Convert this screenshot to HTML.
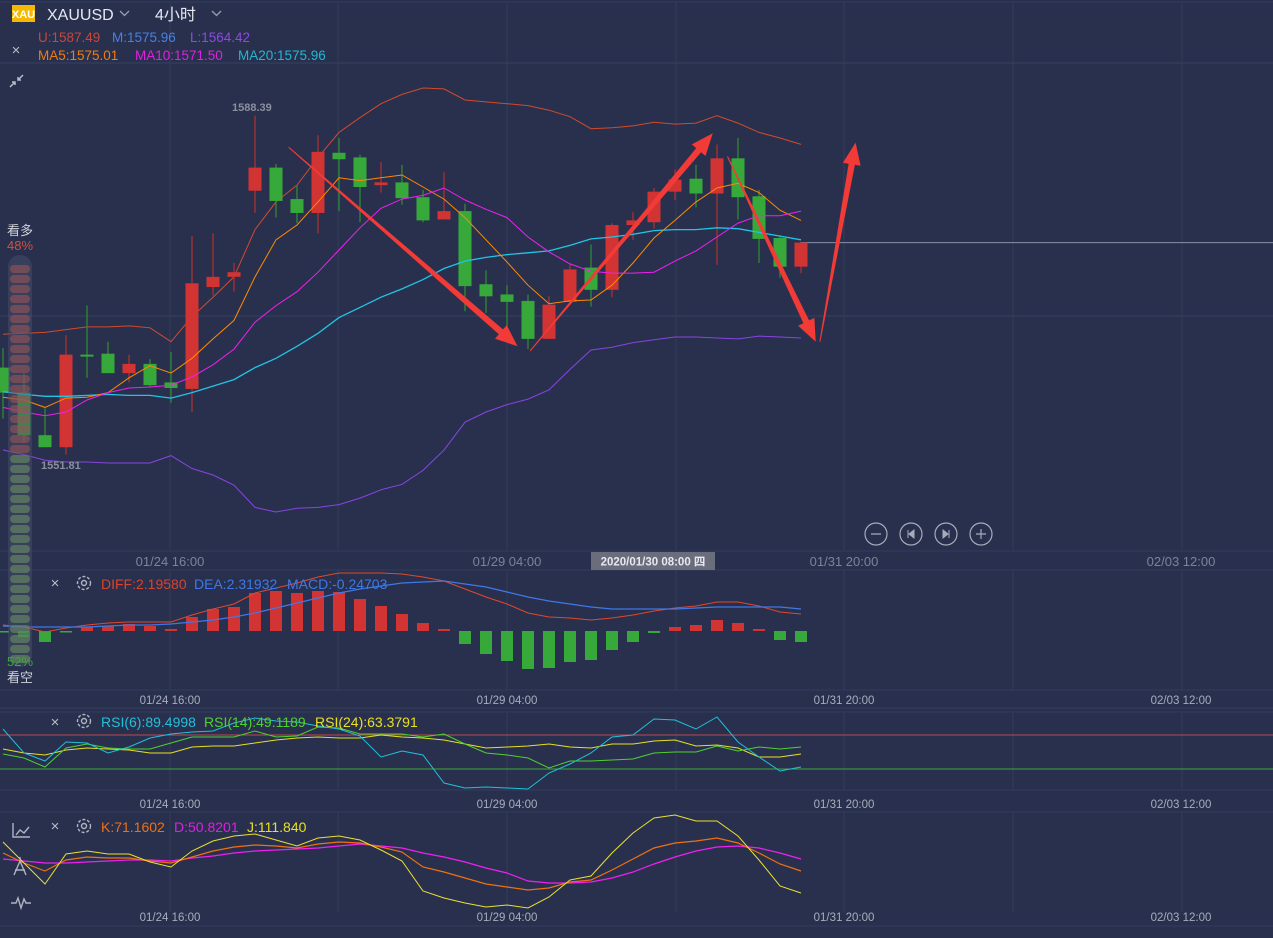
<!DOCTYPE html>
<html><head><meta charset="utf-8">
<style>
html,body{margin:0;padding:0;background:#28304e;}
body{width:1273px;height:938px;overflow:hidden;position:relative;font-family:"Liberation Sans","Noto Sans CJK SC",sans-serif;}
svg{position:absolute;left:0;top:0;}
text{font-family:"Liberation Sans","Noto Sans CJK SC",sans-serif;}
</style></head>
<body>
<svg id="chart" width="1273" height="938" viewBox="0 0 1273 938" xmlns="http://www.w3.org/2000/svg">
  <rect x="0" y="0" width="1273" height="938" fill="#28304e"/>
  <g id="grid"></g>
  <g id="main"></g>
  <g id="macd"></g>
  <g id="rsi"></g>
  <g id="kdj"></g>
  <g id="arrows"></g>

  <rect x="12" y="5" width="23" height="17" fill="#f5b800"/>
  <text x="23.5" y="18" font-size="11" font-weight="bold" fill="#fff" text-anchor="middle">XAU</text>
  <text x="47" y="20" font-size="16" fill="#e6e8ee">XAUUSD</text>
  <path d="M120 11 l4.5 4.5 l4.5 -4.5" stroke="#9aa0b0" fill="none" stroke-width="1.3"/>
  <text x="155" y="20" font-size="16" fill="#e6e8ee">4小时</text>
  <path d="M212 11 l4.5 4.5 l4.5 -4.5" stroke="#9aa0b0" fill="none" stroke-width="1.3"/>

  <text x="38" y="42" font-size="13.5" fill="#c8463a">U:1587.49</text>
  <text x="112" y="42" font-size="13.5" fill="#4a80e0">M:1575.96</text>
  <text x="190" y="42" font-size="13.5" fill="#8d4ae0">L:1564.42</text>
  <text x="38" y="60" font-size="13.5" fill="#f07c10">MA5:1575.01</text>
  <text x="135" y="60" font-size="13.5" fill="#e020e0">MA10:1571.50</text>
  <text x="238" y="60" font-size="13.5" fill="#20b8d0">MA20:1575.96</text>
  <text x="16" y="55" font-size="15" fill="#b8bcc8" text-anchor="middle">×</text>
  <g stroke="#b8bcc8" stroke-width="1.5" fill="none">
    <path d="M23 75 l-5 5 M18 77 v3 h3"/><path d="M10 87 l5 -5 M12 82 h3 v3"/>
  </g>

  <text x="232" y="111" font-size="11" font-weight="bold" fill="#8a8f9e">1588.39</text>
  <text x="41" y="469" font-size="11" font-weight="bold" fill="#8a8f9e">1551.81</text>

  <g id="sentiment"></g>
  <text x="20" y="235" font-size="13" fill="#d0d2da" text-anchor="middle">看多</text>
  <text x="20" y="250" font-size="13" fill="#d0503e" text-anchor="middle">48%</text>
  <text x="20" y="666" font-size="13" fill="#3aa83a" text-anchor="middle">52%</text>
  <text x="20" y="682" font-size="13" fill="#d0d2da" text-anchor="middle">看空</text>

  <g stroke="#a8acb8" fill="none" stroke-width="1.2">
    <circle cx="876" cy="534" r="11"/>
    <circle cx="911" cy="534" r="11"/>
    <circle cx="946" cy="534" r="11"/>
    <circle cx="981" cy="534" r="11"/>
    <path d="M871 534 h10 M976 534 h10 M981 529 v10"/>
  </g>
  <path d="M908 530 v8 M914 530 l-5 4 l5 4z M949 530 v8 M943 530 l5 4 l-5 4z" fill="#a8acb8" stroke="#a8acb8" stroke-width="1"/>

  <g font-size="13" fill="#7d8396" text-anchor="middle">
    <text x="170" y="566">01/24 16:00</text>
    <text x="507" y="566">01/29 04:00</text>
    <text x="844" y="566">01/31 20:00</text>
    <text x="1181" y="566">02/03 12:00</text>
  </g>
  <rect x="591" y="552" width="124" height="18" fill="#6a6d7c"/>
  <text x="653" y="565.5" font-size="11.5" font-weight="bold" fill="#e8e8ee" text-anchor="middle">2020/01/30 08:00 四</text>
  <g font-size="11.5" fill="#a8adbb" text-anchor="middle">
    <text x="170" y="704">01/24 16:00</text><text x="507" y="704">01/29 04:00</text><text x="844" y="704">01/31 20:00</text><text x="1181" y="704">02/03 12:00</text>
    <text x="170" y="808">01/24 16:00</text><text x="507" y="808">01/29 04:00</text><text x="844" y="808">01/31 20:00</text><text x="1181" y="808">02/03 12:00</text>
    <text x="170" y="921">01/24 16:00</text><text x="507" y="921">01/29 04:00</text><text x="844" y="921">01/31 20:00</text><text x="1181" y="921">02/03 12:00</text>
  </g>

  <g font-size="15" fill="#b8bcc8" text-anchor="middle">
    <text x="55" y="588">×</text>
    <text x="55" y="727">×</text>
    <text x="55" y="831">×</text>
  </g>
  <g fill="none" stroke="#b0b4c0" stroke-width="1.4">
    <g><circle cx="84" cy="583" r="6.5" stroke-dasharray="3 1.8"/><circle cx="84" cy="583" r="2.5"/></g>
    <g><circle cx="84" cy="721" r="6.5" stroke-dasharray="3 1.8"/><circle cx="84" cy="721" r="2.5"/></g>
    <g><circle cx="84" cy="826" r="6.5" stroke-dasharray="3 1.8"/><circle cx="84" cy="826" r="2.5"/></g>
  </g>
  <g font-size="14">
    <text x="101" y="589" fill="#d8442e">DIFF:2.19580</text>
    <text x="194" y="589" fill="#3f78e6">DEA:2.31932</text>
    <text x="287" y="589" fill="#3f78e6">MACD:-0.24703</text>
    <text x="101" y="727" fill="#22c0d8">RSI(6):89.4998</text>
    <text x="204" y="727" fill="#50d030">RSI(14):49.1189</text>
    <text x="315" y="727" fill="#e8e020">RSI(24):63.3791</text>
    <text x="101" y="832" fill="#f07010">K:71.1602</text>
    <text x="174" y="832" fill="#e020e0">D:50.8201</text>
    <text x="247" y="832" fill="#e8e020">J:111.840</text>
  </g>
  <g stroke="#b0b4c0" fill="none" stroke-width="1.4">
    <path d="M13 823 v14 h17 M16 835 l4 -5 l4 3 l5 -6"/>
    <path d="M20 857 v4 M20 861 l-6 14 M20 861 l6 14 M15 870 h10"/>
    <path d="M11 903 h5 l2 -5 l3 10 l3 -9 l2 4 h5"/>
  </g>
</svg>
<script>
const openP  = [1561.2,1558.5,1553.9,1552.6,1562.6,1562.7,1560.6,1561.6,1559.6,1558.9,1569.9,1571.0,1580.3,1582.8,1579.4,1577.9,1584.4,1583.9,1580.9,1581.2,1579.6,1577.2,1578.1,1570.2,1569.1,1568.4,1564.3,1568.3,1572.0,1569.6,1576.6,1576.9,1580.2,1581.6,1580.0,1583.8,1579.7,1575.2,1572.1];
const highP  = [1563.3,1560.6,1556.8,1564.7,1567.9,1564.0,1562.6,1562.1,1562.9,1575.4,1575.7,1572.5,1588.4,1583.2,1580.9,1586.3,1586.0,1584.2,1583.4,1583.1,1580.4,1582.3,1578.9,1571.7,1570.1,1569.1,1568.9,1572.4,1574.5,1576.8,1578.0,1580.6,1582.6,1583.1,1585.3,1586.0,1580.4,1575.5,1574.8];
const lowP   = [1555.7,1553.2,1552.6,1551.8,1560.1,1560.6,1559.6,1559.1,1557.4,1556.4,1569.0,1569.4,1577.9,1577.4,1576.8,1575.7,1578.1,1576.9,1580.1,1578.8,1576.9,1577.2,1567.3,1567.1,1565.3,1563.2,1564.3,1568.3,1567.8,1568.8,1575.0,1576.2,1579.3,1578.5,1572.3,1577.2,1572.5,1570.9,1571.4];
const closeP = [1558.5,1553.9,1552.6,1562.6,1562.4,1560.6,1561.6,1559.3,1559.0,1570.3,1571.0,1571.5,1582.8,1579.2,1577.9,1584.5,1583.7,1580.7,1581.2,1579.5,1577.1,1578.1,1570.0,1568.9,1568.3,1564.3,1568.0,1571.8,1569.6,1576.6,1577.1,1580.2,1581.5,1580.0,1583.8,1579.6,1575.1,1572.1,1574.7];
const bollUpper = [1564.8,1564.9,1565.0,1565.3,1565.6,1565.6,1565.7,1565.5,1564.0,1566.7,1568.8,1571.0,1576.1,1579.1,1580.9,1583.9,1586.6,1588.2,1589.7,1590.7,1591.4,1591.3,1590.1,1589.9,1589.7,1589.5,1589.0,1588.3,1587.0,1587.1,1587.3,1587.7,1587.5,1587.6,1588.4,1587.6,1586.6,1586.0,1585.3];
const bollMid   = [1558.6,1558.3,1558.1,1558.1,1558.2,1558.3,1558.2,1558.2,1557.9,1558.5,1559.2,1559.9,1561.2,1562.2,1563.5,1564.9,1566.6,1567.7,1568.8,1569.7,1570.7,1571.9,1572.7,1573.1,1573.4,1573.6,1573.8,1574.4,1575.1,1575.3,1575.6,1576.0,1576.1,1576.1,1576.3,1576.2,1575.8,1575.4,1575.0];
const bollLower = [1552.3,1551.8,1551.2,1551.0,1551.0,1550.9,1550.9,1550.9,1551.7,1550.3,1549.6,1548.5,1546.1,1545.6,1546.0,1546.1,1546.4,1547.1,1548.0,1548.6,1550.1,1552.3,1555.3,1556.4,1557.2,1557.8,1558.8,1561.0,1563.1,1563.4,1563.9,1564.2,1564.5,1564.5,1564.4,1564.3,1564.6,1564.5,1564.4];
const ma5  = [1558.0,1557.7,1556.9,1557.9,1558.0,1558.5,1560.1,1561.4,1560.6,1562.2,1564.3,1566.3,1571.0,1575.0,1576.6,1579.1,1581.7,1581.4,1581.7,1582.0,1580.7,1579.4,1577.4,1575.0,1572.6,1570.1,1568.1,1568.4,1568.5,1570.1,1572.5,1575.2,1577.1,1579.1,1580.6,1581.1,1580.1,1578.2,1577.1];
const ma10 = [1556.9,1556.4,1556.0,1556.4,1557.7,1558.5,1559.0,1559.1,1559.3,1560.2,1561.5,1563.2,1566.1,1567.9,1569.4,1571.5,1573.9,1576.3,1578.4,1579.4,1579.8,1580.6,1579.3,1578.3,1577.4,1575.3,1573.7,1572.4,1571.6,1571.4,1571.4,1571.5,1572.7,1573.8,1575.3,1576.8,1577.6,1577.6,1578.1];
const lastPrice = 1574.7;
const macdHist = [-0.05,-0.3,-0.55,-0.05,0.2,0.25,0.35,0.25,0.1,0.7,1.1,1.2,1.9,2.0,1.9,2.0,1.95,1.6,1.25,0.85,0.4,0.1,-0.65,-1.15,-1.5,-1.9,-1.85,-1.55,-1.45,-0.95,-0.55,-0.1,0.2,0.3,0.55,0.4,0.1,-0.45,-0.55];
const macdDiff = [0.3,0.2,-0.05,0.15,0.3,0.4,0.45,0.45,0.45,0.8,1.1,1.35,1.9,2.15,2.4,2.7,2.9,2.9,2.9,2.85,2.7,2.5,2.1,1.7,1.35,0.9,0.7,0.65,0.55,0.65,0.8,1.0,1.15,1.25,1.45,1.45,1.25,0.95,0.85];
const macdDea  = [0.25,0.2,0.2,0.2,0.2,0.25,0.3,0.3,0.35,0.45,0.55,0.7,0.9,1.15,1.4,1.65,1.9,2.1,2.25,2.4,2.45,2.5,2.35,2.2,1.95,1.7,1.5,1.35,1.2,1.1,1.1,1.1,1.1,1.15,1.2,1.2,1.2,1.2,1.1];
const rsi6  = [77.1,48.8,39.4,61.8,60.6,48.8,55.9,66.5,71.2,73.5,74.7,84.1,90.0,86.5,85.3,80.6,77.1,68.8,44.1,51.2,46.5,13.5,7.7,8.8,7.7,6.5,25.3,35.9,48.8,67.6,70.0,88.8,87.6,77.1,91.2,61.8,44.1,27.7,32.4];
const rsi14 = [47.7,43.0,32.4,54.7,59.4,54.7,53.5,53.5,60.6,67.6,67.6,67.6,74.7,67.6,68.8,79.4,78.2,71.2,71.2,71.2,67.6,71.2,59.4,48.8,46.5,43.0,31.2,39.4,39.4,40.6,41.8,48.8,50.0,50.0,57.1,51.2,55.9,53.5,55.9];
const rsi24 = [53.5,48.8,46.5,52.4,54.7,53.5,52.4,48.8,48.8,55.9,57.1,57.1,60.6,64.1,66.5,67.6,66.5,66.5,70.0,67.6,66.5,64.1,59.4,54.7,55.9,57.1,59.4,55.9,54.7,59.4,59.4,62.9,64.1,57.1,58.2,54.7,44.1,44.1,47.7];
const rsiLevels = [70, 30];
const kdjK = [65,52.5,42.5,56.3,60,58.8,58.8,55,52.5,60,67.5,72.5,75,73.8,71.3,76.3,78.8,77.5,72.5,66.3,47.5,41.3,33.8,26.3,22.5,18.8,21.3,28.8,31.3,43.8,57.5,71.3,77.5,80,83.8,77.5,65,51.3,42.5];
const kdjD = [57.5,55,52.5,52.5,53.8,55,56.3,56.3,55,58.8,61.3,65,67.5,68.8,70,71.3,73.8,76.3,73.8,71.3,65,60,53.8,46.3,40,30,27.5,27.5,28.8,33.8,41.3,51.3,60,67.5,72.5,73.8,71.3,65,57.5];
const kdjJ = [78.8,52.5,26.3,63.8,67.5,63.8,63.8,53.8,47.5,67.5,80,86.3,88.8,81.3,73.8,83.8,86.3,81.3,68.8,55,17.5,8.8,2.5,-2.5,0,-3.8,10,31.3,36.3,65,90,108.8,112.5,105,105,86.3,56.3,23.8,15];
const arrowFromIdx = [13.6, 25.1, 34.5, 38.9];
const arrowFromPrice = [1585.0, 1563.0, 1584.0, 1564.0];
const arrowToIdx = [24.5, 33.8, 38.7, 40.6];
const arrowToPrice = [1563.5, 1586.5, 1564.0, 1585.5];

const NS = 'http://www.w3.org/2000/svg';
function mk(parent, tag, attrs){ const e=document.createElementNS(NS,tag); for(const k in attrs) e.setAttribute(k,attrs[k]); parent.appendChild(e); return e; }
const xOf = i => 3 + 21*i;
const yMain = p => 300 - (p - 1568.5)/0.108;
const yMacd = v => 631 - v/0.05;
const yRsi = v => 735 + (70 - v)*0.85;
const yKdj = v => 905 - v*0.8;

const grid = document.getElementById('grid');
[2,551,570,690,708,712,790,812,926].forEach(y=>{ const l=mk(grid,'line',{x1:0,x2:1273,y1:y,y2:y,stroke:'#353d5c','stroke-width':1});
  });
[63,316].forEach(y=>{ const l=mk(grid,'line',{x1:0,x2:1273,y1:y,y2:y,stroke:'#384160','stroke-width':1});
  });
[170,338,507,676,844,1013,1182].forEach(x=>{
  [[2,551],[570,690],[712,790],[812,912]].forEach(r=>{ const l=mk(grid,'line',{x1:x,x2:x,y1:r[0],y2:r[1],stroke:'#333b5a','stroke-width':1});
    });
});
const lp=mk(grid,'line',{x1:800,x2:1273,y1:yMain(lastPrice),y2:yMain(lastPrice),stroke:'#8a90a4','stroke-width':1});
 

const main = document.getElementById('main');
function poly(parent, arr, yf, color, name, w){
  const pts = arr.map((v,i)=>xOf(i).toFixed(1)+','+yf(v).toFixed(1)).join(' ');
  const p = mk(parent,'polyline',{points:pts,fill:'none',stroke:color,'stroke-width':w||1});
  
  
  return p;
}
poly(main,bollUpper,yMain,'#d24a2a','boll-upper-line');
poly(main,bollLower,yMain,'#8a44e0','boll-lower-line');
openP.forEach((o,i)=>{
  const c=closeP[i], up=c>=o, col=up?'#d23434':'#37a93a';
  const x=xOf(i);
  const w=mk(main,'line',{x1:x,x2:x,y1:yMain(highP[i]),y2:yMain(lowP[i]),stroke:up?'#a83030':'#2f8a34','stroke-width':1.3});
  
  
  const t=yMain(Math.max(o,c)), b=yMain(Math.min(o,c));
  const r=mk(main,'rect',{x:x-6.5,y:t,width:13,height:Math.max(2,b-t),fill:col});
  
  
});
poly(main,bollMid,yMain,'#22c4e4','ma20-line',1.3);
poly(main,ma5,yMain,'#ff8a00','ma5-line');
poly(main,ma10,yMain,'#f020f0','ma10-line');

const macd = document.getElementById('macd');
macdHist.forEach((v,i)=>{
  const y0=yMacd(0), y1=yMacd(v);
  const r=mk(macd,'rect',{x:xOf(i)-6,y:Math.min(y0,y1),width:12,height:Math.max(1.5,Math.abs(y1-y0)),fill:v>=0?'#d23434':'#37a93a'});
  
  
});
poly(macd,macdDiff,yMacd,'#e0482c','diff-line');
poly(macd,macdDea,yMacd,'#3f78e6','dea-line',1.2);

const rsi = document.getElementById('rsi');
rsiLevels.forEach((v,k)=>{ const l=mk(rsi,'line',{x1:0,x2:1273,y1:yRsi(v),y2:yRsi(v),stroke:k===0?'#c04a50':'#3aa83a','stroke-width':1});
  
   });
poly(rsi,rsi24,yRsi,'#e8e020','rsi24-line');
poly(rsi,rsi14,yRsi,'#50d030','rsi14-line');
poly(rsi,rsi6,yRsi,'#22c0d8','rsi6-line');

const kdj = document.getElementById('kdj');
poly(kdj,kdjD,yKdj,'#f020f0','d-line',1.2);
poly(kdj,kdjK,yKdj,'#f07010','k-line',1.2);
poly(kdj,kdjJ,yKdj,'#ece030','j-line');

const sent=document.getElementById('sentiment');
const cap=mk(sent,'rect',{x:8,y:255,width:24,height:412,rx:12,fill:'#4a5370','opacity':0.45});
 
for(let k=0;k<40;k++){
  const y=265+k*10;
  const p=mk(sent,'rect',{x:10,y:y,width:20,height:8,rx:4,fill:k<19?'#9a5456':'#6a8e62','opacity':0.6});
  
  
}

const arr=document.getElementById('arrows');
arrowFromIdx.forEach((fi,k)=>{
  const x1=xOf(fi),y1=yMain(arrowFromPrice[k]),x2=xOf(arrowToIdx[k]),y2=yMain(arrowToPrice[k]);
  const dx=x2-x1,dy=y2-y1,L=Math.hypot(dx,dy),ux=dx/L,uy=dy/L,nx=-uy,ny=ux;
  const hl=22,hw=9,sw=3.2;
  const bx=x2-ux*hl,by=y2-uy*hl;
  const pts=[[x1+nx*0.5,y1+ny*0.5],[bx+nx*sw,by+ny*sw],[bx+nx*hw,by+ny*hw],[x2,y2],[bx-nx*hw,by-ny*hw],[bx-nx*sw,by-ny*sw],[x1-nx*0.5,y1-ny*0.5]];
  const p=mk(arr,'polygon',{points:pts.map(q=>q[0].toFixed(1)+','+q[1].toFixed(1)).join(' '),fill:'#f23a36'});
  
  
});
</script>
</body></html>
